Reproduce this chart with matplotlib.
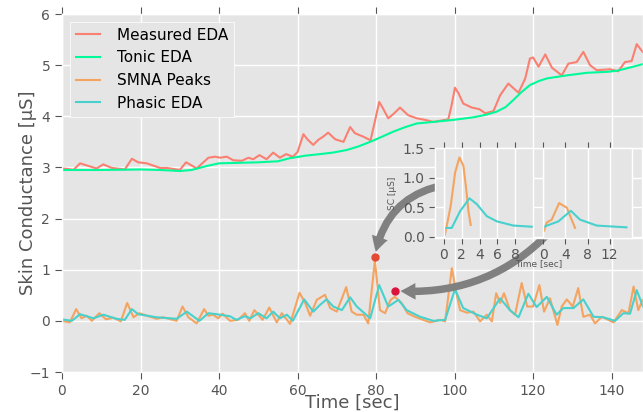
import numpy as np
import matplotlib
matplotlib.use("Agg")
import matplotlib.pyplot as plt
from matplotlib.patches import FancyArrowPatch

plt.style.use("ggplot")

# ---------------------------------------------------------------------------
# Data
# ---------------------------------------------------------------------------
# Measured EDA
meas_t = [0, 1.5, 2.9, 4.6, 6.7, 8.8, 10.5, 12.7, 16, 17.8, 19.4, 21.6, 25, 26.7, 30, 31.6, 33, 34.3,
          37.3, 39, 40.3, 42, 43.6, 45.8, 47.5, 48.7, 50.3, 52.1, 53.8, 55.5, 57.1, 58.8, 60, 61.5,
          62.5, 64, 65.3, 66.5, 67.8, 69.6, 71.7, 73.4, 74.6, 76.8, 78.6, 79.7, 80.8, 81.8, 83.1,
          84.5, 86.1, 88.2, 90.4, 92.5, 94.6, 98.4, 99.2, 100.1, 101, 102.2, 104.4, 106.3, 107.8,
          109.9, 111.6, 113.7, 116.3, 118, 119.2, 120, 121.4, 123.1, 124.8, 127.3, 129, 131.1,
          132.8, 134.5, 136.2, 139.6, 141.7, 143.4, 145.1, 146.4, 147.9]
meas_v = [2.98, 2.97, 2.95, 3.08, 3.03, 2.98, 3.06, 2.99, 2.96, 3.17, 3.10, 3.08, 2.99, 2.99, 2.95, 3.10,
          3.04, 2.98, 3.19, 3.21, 3.19, 3.21, 3.14, 3.13, 3.19, 3.16, 3.24, 3.16, 3.29, 3.19, 3.26,
          3.21, 3.30, 3.65, 3.55, 3.44, 3.54, 3.60, 3.68, 3.55, 3.50, 3.79, 3.67, 3.60, 3.53, 3.90,
          4.28, 4.15, 3.96, 4.05, 4.17, 4.02, 3.96, 3.93, 3.89, 3.94, 4.20, 4.56, 4.45, 4.25, 4.17,
          4.14, 4.06, 4.10, 4.41, 4.64, 4.46, 4.74, 5.13, 5.15, 4.97, 5.21, 4.95, 4.80, 5.03, 5.06,
          5.26, 5.00, 4.90, 4.92, 4.88, 5.06, 5.08, 5.41, 5.26]

# Tonic EDA
tonic_t = [0, 10, 20, 25, 30, 33, 35, 37, 40, 45, 50, 55, 58, 62, 65.7, 69, 72.5, 75.5, 78.5, 81.5,
           84.4, 87.5, 90.4, 94.6, 99.7, 104.8, 108, 110.7, 113, 115, 117, 119.2, 121.5, 123.5,
           128.6, 133.7, 139, 141.3, 144, 148]
tonic_v = [2.95, 2.95, 2.96, 2.95, 2.93, 2.95, 2.99, 3.03, 3.08, 3.09, 3.10, 3.12, 3.18, 3.23, 3.26,
           3.29, 3.34, 3.41, 3.50, 3.60, 3.70, 3.79, 3.86, 3.89, 3.93, 3.98, 4.03, 4.09, 4.18, 4.32,
           4.47, 4.61, 4.69, 4.74, 4.80, 4.85, 4.87, 4.89, 4.94, 5.02]

# SMNA peaks
smna_t = [0, 2, 3.6, 5, 6.3, 7.6, 9.5, 11.2, 13.1, 15, 16.6, 18.2, 19.7, 24.1, 25.8, 29.2, 30.7, 32.2,
          34.3, 36.2, 37.3, 38.5, 39.8, 40.9, 42.8, 44.9, 46.6, 47.7, 49, 51.1, 52.8, 54.7, 56, 58.1,
          60.5, 61.9, 63.2, 64.9, 67, 68.3, 70, 72.4, 73.8, 75.1, 76.8, 78, 79.7, 81, 82.3, 83.7,
          84.8, 86.5, 88, 89.9, 91.6, 93.8, 96.3, 97.6, 99.3, 100.4, 101.4, 103.1, 104.8, 106.5,
          108.2, 109.5, 110.6, 111.6, 112.6, 114.1, 115.4, 117.1, 118.5, 120, 121.6, 122.8, 124.3,
          126.2, 127.3, 128.6, 130.1, 131.5, 132.8, 134.5, 135.8, 137.5, 140.5, 142.6, 144.3,
          145.6, 146.8, 147.9]
smna_v = [0.0, -0.03, 0.23, 0.05, 0.10, 0.0, 0.15, 0.03, 0.06, -0.01, 0.35, 0.07, 0.15, 0.04, 0.07,
          0.0, 0.28, 0.07, -0.05, 0.23, 0.10, 0.12, 0.05, 0.14, 0.0, 0.02, 0.15, 0.0, 0.21, 0.02,
          0.26, -0.03, 0.15, -0.06, 0.55, 0.36, 0.10, 0.41, 0.51, 0.25, 0.18, 0.66, 0.18, 0.12, 0.12,
          -0.05, 1.18, 0.21, 0.15, 0.41, 0.47, 0.35, 0.15, 0.08, 0.03, -0.03, 0.02, -0.01, 1.03, 0.57,
          0.21, 0.16, 0.18, -0.01, 0.12, -0.01, 0.54, 0.35, 0.54, 0.21, 0.12, 0.74, 0.28, 0.28, 0.70,
          0.18, 0.44, -0.08, 0.28, 0.42, 0.28, 0.64, 0.08, 0.12, -0.05, 0.08, -0.03, 0.21, 0.15,
          0.67, 0.21, 0.41]

# Phasic EDA
phasic_t = [0, 2.5, 4.6, 8, 10.5, 13.9, 16, 17.8, 19.4, 24.1, 29.2, 31.8, 35, 37.3, 40.3, 42.8, 44.4,
            46.6, 48, 50, 52.1, 53.8, 55.5, 57.3, 58.8, 61.7, 64, 65.7, 67.4, 69.1, 71.3, 73.4, 75.1,
            78.5, 80.8, 83.1, 85.7, 87.8, 91.2, 94.6, 97.6, 100.1, 102.2, 105.7, 108.2, 111.6,
            114.1, 116.3, 118.8, 120.9, 123.5, 126, 127.7, 130.3, 132.8, 135.4, 137.9, 140.9, 143,
            144.7, 146.4, 148]
phasic_v = [0.03, 0.0, 0.13, 0.05, 0.12, 0.04, 0.02, 0.23, 0.13, 0.07, 0.04, 0.18, 0.0, 0.15, 0.12,
            0.09, 0.02, 0.09, 0.05, 0.15, 0.05, 0.18, 0.05, 0.12, 0.0, 0.42, 0.18, 0.31, 0.42, 0.28,
            0.21, 0.46, 0.28, 0.05, 0.70, 0.28, 0.41, 0.21, 0.08, 0.0, 0.02, 0.62, 0.25, 0.12, 0.05,
            0.44, 0.21, 0.07, 0.53, 0.27, 0.47, 0.12, 0.25, 0.25, 0.42, 0.08, 0.07, 0.0, 0.15, 0.14,
            0.60, 0.28]

# highlighted SMNA peaks and where the arrows start (under the inset)
peak_t = [79.7, 84.8]
peak_v = [1.24, 0.59]
peak_colors = ["#E24A33", "#DC143C"]
arrow_from = [(97.6, 2.66), (125.9, 1.88)]
arrow_rad = [0.35, -0.25]

# inset: single responses
in1_smna_t = [0.1, 0.75, 1.24, 1.73, 2.18, 2.5, 2.75, 3.0]
in1_smna_v = [0.03, 0.52, 1.08, 1.34, 1.20, 0.80, 0.43, 0.20]
in1_phas_t = [0, 0.87, 1.8, 2.86, 3.7, 4.8, 5.95, 7.8, 9.9]
in1_phas_v = [0.15, 0.15, 0.43, 0.65, 0.55, 0.35, 0.26, 0.19, 0.17]

in2_smna_t = [0.2, 0.66, 1.56, 2.9, 4.3, 4.9, 5.75]
in2_smna_v = [0.10, 0.24, 0.29, 0.57, 0.49, 0.35, 0.15]
in2_phas_t = [0, 2.76, 5.0, 6.65, 9.65, 15]
in2_phas_v = [0.165, 0.26, 0.44, 0.29, 0.19, 0.16]

c_meas = "#FA8072"
c_tonic = "#00FA9A"
c_smna = "#F4A460"
c_phas = "#48D1CC"
grey = "#555555"

# ---------------------------------------------------------------------------
fig = plt.figure(figsize=(6.43, 4.12), dpi=100)
ax = fig.add_axes([62 / 643, 40 / 412, 581 / 643, 358 / 412])

ax.plot(meas_t, meas_v, color=c_meas, lw=1.5, label="Measured EDA")
ax.plot(tonic_t, tonic_v, color=c_tonic, lw=1.5, label="Tonic EDA")
ax.plot(smna_t, smna_v, color=c_smna, lw=1.5, label="SMNA Peaks")
ax.plot(phasic_t, phasic_v, color=c_phas, lw=1.5, label="Phasic EDA")

for (x0, y0), x1, y1, r in zip(arrow_from, peak_t, peak_v, arrow_rad):
    arr = FancyArrowPatch((x0, y0), (x1, y1), connectionstyle="arc3,rad=%s" % r,
                          arrowstyle="simple,head_width=1.0,head_length=0.9,tail_width=0.45",
                          mutation_scale=12, color="#808080", lw=0, shrinkA=0, shrinkB=4, zorder=3)
    ax.add_patch(arr)
for x, y, c in zip(peak_t, peak_v, peak_colors):
    ax.plot([x], [y], "o", color=c, ms=5, mec=c, zorder=4)

ax.set_xlim(0, 148)
ax.set_ylim(-1, 6)
ax.set_xticks(np.arange(0, 141, 20))
ax.set_yticks(np.arange(-1, 7, 1))
ax.tick_params(direction="out", length=5, color=grey, labelcolor=grey, labelsize=10,
               top=True, right=True)
for s in ax.spines.values():
    s.set_color("white")
ax.grid(True, color="white", lw=1)
ax.set_xlabel("Time [sec]", fontsize=13, color=grey)
ax.set_ylabel("Skin Conductance [µS]", fontsize=13, color=grey)
ax.xaxis.set_label_coords(0.5, -0.061)
ax.yaxis.set_label_coords(-0.043, 0.5)

leg = ax.legend(loc="upper left", fontsize=11, handlelength=1.6, handletextpad=1.1,
                labelspacing=0.5, borderaxespad=0.5, fancybox=False)
leg.get_frame().set_facecolor("#E5E5E5")
leg.get_frame().set_edgecolor("white")
leg.get_frame().set_alpha(1)
for t in leg.get_texts():
    t.set_color("black")

# ---------------------------------------------------------------------------
# inset
ins_b = (412 - 238) / 412
ins_h = 90 / 412
big = fig.add_axes([435 / 643, ins_b, 207 / 643, ins_h])
big.set_facecolor("#E5E5E5")
big.set_xlim(0, 1)
big.set_ylim(-0.02, 1.5)
big.set_xticks([])
big.set_yticks([0, 0.5, 1.0, 1.5])
big.tick_params(direction="out", length=4, color=grey, labelcolor=grey, labelsize=10, right=False)
big.grid(True, axis="y", color="white", lw=1)
for s in big.spines.values():
    s.set_color("white")
big.set_ylabel("SC [µS]", fontsize=6.5, color=grey, labelpad=4)
big.set_xlabel("Time [sec]", fontsize=6.5, color=grey, labelpad=15)

for left, xmax, xt, st, sv, pt, pv in [
        (444, 10, [0, 2, 4, 6, 8], in1_smna_t, in1_smna_v, in1_phas_t, in1_phas_v),
        (543, 16, [0, 4, 8, 12], in2_smna_t, in2_smna_v, in2_phas_t, in2_phas_v)]:
    sub = fig.add_axes([left / 643, ins_b, 89 / 643, ins_h])
    sub.set_facecolor("#E5E5E5")
    sub.plot(st, sv, color=c_smna, lw=1.5)
    sub.plot(pt, pv, color=c_phas, lw=1.5)
    sub.set_xlim(0, xmax)
    sub.set_ylim(-0.02, 1.5)
    sub.set_xticks(xt)
    sub.set_yticks([])
    sub.tick_params(direction="out", length=4, color=grey, labelcolor=grey, labelsize=10, top=True)
    sub.grid(True, axis="x", color="white", lw=1)
    for s in sub.spines.values():
        s.set_color("white")

fig.savefig("out.png", dpi=100)
